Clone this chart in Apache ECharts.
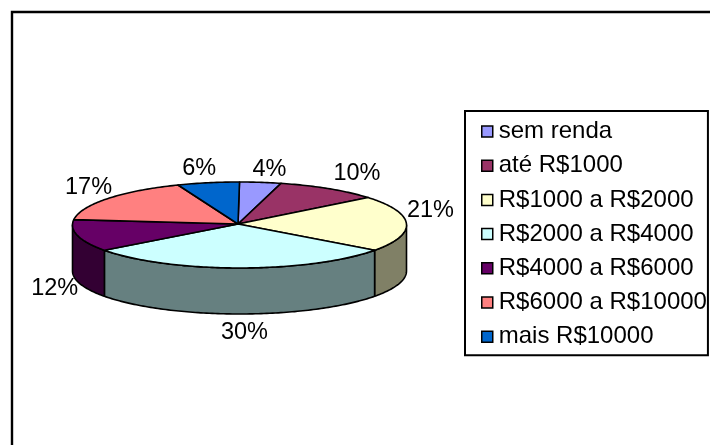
<!DOCTYPE html>
<html><head><meta charset="utf-8">
<style>html,body{margin:0;padding:0;background:#fff}#c{width:710px;height:445px}</style>
<script src="https://cdn.jsdelivr.net/npm/echarts@6/dist/echarts.min.js"></script>
</head><body><div id="c"></div>
<script>
const categories = ['sem renda','até R$1000','R$1000 a R$2000','R$2000 a R$4000','R$4000 a R$6000','R$6000 a R$10000','mais R$10000'];
const values = [4,10,21,30,12,17,6];
const topColors = ['#9999FF','#993366','#FFFFCC','#CCFFFF','#660066','#FF8080','#0066CC'];
const sideColors = ['#4D4D80','#4D1A33','#808066','#668080','#330033','#804040','#003366'];
const labelNudges = [[9,-13],[28,-15],[24,-13],[5,19],[-23,7],[-19,-11],[-9,-14]];

const FONT = '"Liberation Sans", Arial, sans-serif';
const pie = {cx:239.5, cy:225, rx:167, ry:43, depth:46, apexX:238, apexY:224};
const total = values.reduce((a,b)=>a+b,0);
const rim = (deg) => {
  const t = deg*Math.PI/180;
  return [pie.cx + pie.rx*Math.sin(t), pie.cy - pie.ry*Math.cos(t)];
};
const arc = (a,b) => {
  const pts = [], n = Math.max(2, Math.ceil(Math.abs(b-a)));
  for (let i=0;i<=n;i++) pts.push(rim(a+(b-a)*i/n));
  return pts;
};
const edge = {stroke:'#000', lineWidth:1.6, lineJoin:'round'};

function sliceRenderer(idx){
  const before = values.slice(0,idx).reduce((a,b)=>a+b,0);
  return function(params, api){
    const v = api.value(0);
    const a0 = before/total*360, a1 = (before+v)/total*360;
    const children = [];
    const s0 = Math.max(a0,90), s1 = Math.min(a1,270);
    if (s1 > s0) {
      const up = arc(s0,s1);
      const down = up.slice().reverse().map(p=>[p[0],p[1]+pie.depth]);
      children.push({type:'polygon',shape:{points:up.concat(down)},
        style:Object.assign({fill:sideColors[idx]},edge)});
    }
    children.push({type:'polygon',shape:{points:[[pie.apexX,pie.apexY]].concat(arc(a0,a1))},
      style:Object.assign({fill:topColors[idx]},edge)});
    const mid = rim((a0+a1)/2);
    const front = Math.cos((a0+a1)/2*Math.PI/180) < 0;
    children.push({type:'text',z2:10,style:{
      text:Math.round(v/total*100)+'%',
      x:mid[0]+labelNudges[idx][0],
      y:mid[1]+(front?pie.depth:0)+labelNudges[idx][1],
      align:'center',verticalAlign:'middle',fill:'#000',
      font:'23.5px '+FONT}});
    return {type:'group',children};
  };
}

const chart = echarts.init(document.getElementById('c'),null,{renderer:'canvas'});
chart.setOption({
  animation:false,
  backgroundColor:'#fff',
  legend:{
    orient:'vertical',left:465,top:111,
    padding:[7,1,5,16],
    itemWidth:11,itemHeight:11,itemGap:7.2,
    borderColor:'#000',borderWidth:2,
    selectedMode:false,
    textStyle:{fontFamily:FONT,fontSize:24,color:'#000',lineHeight:27,padding:[0,0,0,1]},
    data:categories.map((name,i)=>({name,icon:'rect',
      itemStyle:{color:topColors[i],borderColor:'#000',borderWidth:1.5}}))
  },
  graphic:[
    {type:'polyline',silent:true,shape:{points:[[12,445],[12,12],[710,12]]},
     style:{stroke:'#000',lineWidth:2.4,fill:null}}
  ],
  series:categories.map((name,i)=>({
    name,type:'custom',coordinateSystem:'none',
    itemStyle:{color:topColors[i]},
    data:[[values[i]]],
    renderItem:sliceRenderer(i)
  }))
});
</script></body></html>
